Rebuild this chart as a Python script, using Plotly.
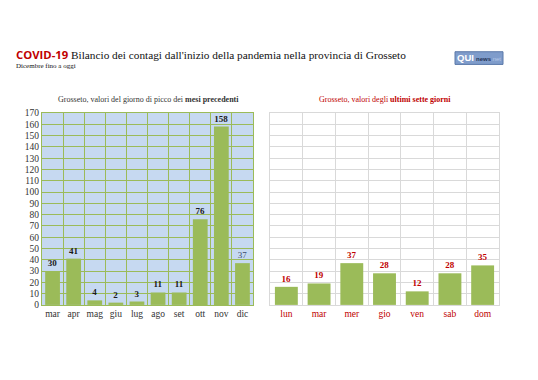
import plotly.graph_objects as go

months = ["mar", "apr", "mag", "giu", "lug", "ago", "set", "ott", "nov", "dic"]
month_values = [30, 41, 4, 2, 3, 11, 11, 76, 158, 37]
days = ["lun", "mar", "mer", "gio", "ven", "sab", "dom"]
day_values = [16, 19, 37, 28, 12, 28, 35]
y_ticks = list(range(0, 171, 10))

SERIF = "Liberation Serif, Times New Roman, serif"
GREEN = "#9BBB59"
RED = "#C00000"

fig = go.Figure()

left_text = [f"<b>{v}</b>" for v in month_values[:-1]] + [str(month_values[-1])]
left_colors = ["#1a1a1a"] * (len(month_values) - 1) + ["#3B4A6B"]

fig.add_trace(go.Bar(
    x=months, y=month_values, xaxis="x", yaxis="y",
    marker=dict(color=GREEN, line=dict(width=0)),
    text=left_text, textposition="outside", cliponaxis=False,
    textfont=dict(family=SERIF, size=9, color=left_colors),
    hoverinfo="x+y", showlegend=False,
))
fig.add_trace(go.Bar(
    x=days, y=day_values, xaxis="x2", yaxis="y2",
    marker=dict(color=GREEN, line=dict(width=0)),
    text=[f"<b>{v}</b>" for v in day_values], textposition="outside", cliponaxis=False,
    textfont=dict(family=SERIF, size=9, color=RED),
    hoverinfo="x+y", showlegend=False,
))

W, H = 538, 380
def px(x): return x / W
def py(y): return 1 - y / H

fig.update_layout(
    width=W, height=H,
    margin=dict(l=0, r=0, t=0, b=0),
    paper_bgcolor="white", plot_bgcolor="white",
    bargap=0.3,
    xaxis=dict(domain=[px(42), px(253)], type="category", tickson="boundaries",
               showgrid=True, gridcolor=GREEN, gridwidth=1,
               showline=True, linecolor=GREEN, mirror=True, linewidth=1,
               ticks="", tickangle=0, tickfont=dict(family=SERIF, size=9.5, color="#333333"),
               fixedrange=True),
    yaxis=dict(domain=[py(308), py(111)], range=[0, 170], tickvals=y_ticks,
               showgrid=True, gridcolor=GREEN, gridwidth=1, zeroline=False,
               showline=True, linecolor=GREEN, mirror=True, linewidth=1,
               ticks="", tickfont=dict(family=SERIF, size=9.5, color="#333333"),
               fixedrange=True),
    xaxis2=dict(domain=[px(270), px(499)], type="category", tickson="boundaries", anchor="y2",
                showgrid=True, gridcolor="#D9D9D9", gridwidth=1,
                showline=True, linecolor="#D9D9D9", mirror=True, linewidth=1,
                ticks="", tickangle=0, tickfont=dict(family=SERIF, size=9.5, color=RED),
                fixedrange=True),
    yaxis2=dict(domain=[py(308), py(111)], range=[0, 170], tickvals=y_ticks, anchor="x2",
                showgrid=True, gridcolor="#D9D9D9", gridwidth=1, zeroline=False,
                showline=True, linecolor="#D9D9D9", mirror=True, linewidth=1,
                showticklabels=False, ticks="", fixedrange=True),
)

# light blue plot background for left chart
fig.add_shape(type="rect", xref="x domain", yref="y domain", x0=0, x1=1, y0=0, y1=1,
              fillcolor="#C6D9F1", line=dict(width=0), layer="below")

annotations = [
    dict(x=px(14), y=py(51), xanchor="left", yanchor="middle",
         text="<span style='font-family:Open Sans, Liberation Sans, sans-serif;color:#C00000'><b>COVID-19</b></span> Bilancio dei contagi dall'inizio della pandemia nella provincia di Grosseto",
         font=dict(family=SERIF, size=11.3, color="#111111")),
    dict(x=px(14), y=py(63), xanchor="left", yanchor="middle",
         text="Dicembre fino a oggi", font=dict(family=SERIF, size=7, color="#111111")),
    dict(x=px(148), y=py(97), xanchor="center", yanchor="middle",
         text="Grosseto, valori del giorno di picco dei <b>mesi precedenti</b>",
         font=dict(family=SERIF, size=8, color="#333333")),
    dict(x=px(385), y=py(97), xanchor="center", yanchor="middle",
         text="Grosseto, valori degli <b>ultimi sette giorni</b>",
         font=dict(family=SERIF, size=8, color=RED)),
    dict(x=px(455), y=py(54), xanchor="left", yanchor="middle",
         text="<b>QUI</b>", font=dict(family="Liberation Sans, sans-serif", size=9.5, color="white")),
    dict(x=px(474), y=py(55), xanchor="left", yanchor="middle",
         text="<b>news</b><span style='color:#B8C8E8'>.net</span>",
         font=dict(family="Liberation Sans, sans-serif", size=6, color="#1F3358")),
]
for a in annotations:
    a.update(xref="paper", yref="paper", showarrow=False)
fig.update_layout(annotations=annotations)

fig.add_shape(type="rect", xref="paper", yref="paper",
              x0=px(455), x1=px(503), y0=py(61), y1=py(48),
              fillcolor="#7F9CCB", line=dict(color="#5A78A8", width=1), layer="below")

fig.write_html("out.html", config={"displayModeBar": False},
               post_script="document.body.style.margin='0';document.body.style.overflow='hidden';")
